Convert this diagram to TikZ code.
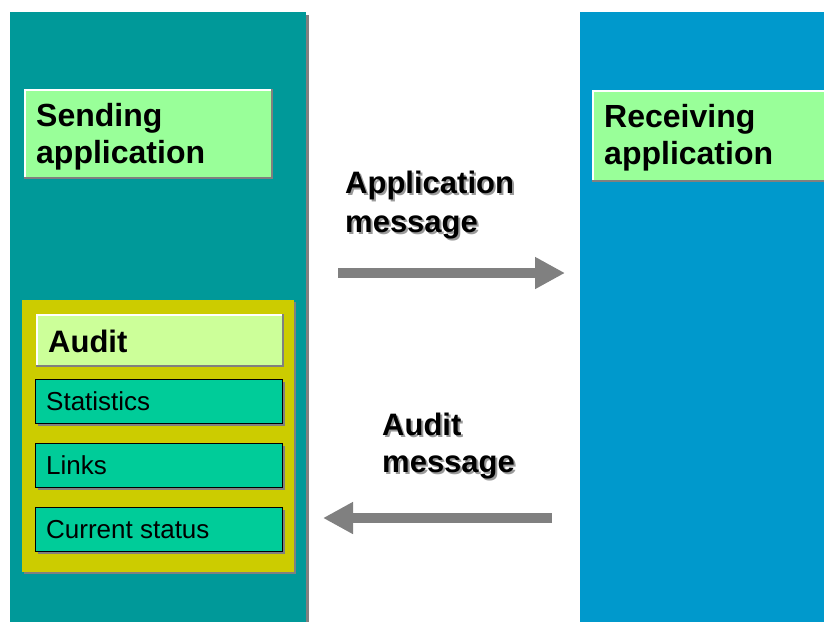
\documentclass[tikz,border=0pt]{standalone}
\usepackage{fontspec}
\setmainfont{Liberation Sans}
\usetikzlibrary{arrows.meta}
\definecolor{leftpanel}{HTML}{009999}
\definecolor{rightpanel}{HTML}{0099CC}
\definecolor{appgreen}{HTML}{99FF99}
\definecolor{audityellow}{HTML}{CCCC00}
\definecolor{auditlight}{HTML}{CCFF99}
\definecolor{itemgreen}{HTML}{00CC99}
\definecolor{shadowgray}{HTML}{808080}
\newcommand{\shadowed}[1]{\makebox[0pt][l]{\hspace{2pt}\raisebox{-2pt}{\textcolor{shadowgray!80}{#1}}}#1}
\tikzset{
  box/.style={draw=none, inner sep=0pt, outer sep=0pt, anchor=north west},
  bigtxt/.style={inner sep=0pt, anchor=base west, font=\fontsize{32}{37}\selectfont\bfseries},
  midtxt/.style={inner sep=0pt, anchor=base west, font=\fontsize{31}{37}\selectfont\bfseries},
  smalltxt/.style={inner sep=0pt, anchor=base west, font=\fontsize{26}{30}\selectfont},
  msgarrow/.style={draw=shadowgray, line width=10pt, -{Triangle[length=30pt,width=30pt]}},
}
\begin{document}
\begin{tikzpicture}[x=1pt,y=-1pt]
\useasboundingbox (0,0) rectangle (824,622);
% panels
\fill[shadowgray] (13,15) rectangle (309,622);
\fill[leftpanel] (10,12) rectangle (306,622);
\fill[rightpanel] (580,12) rectangle (824,622);
% sending box
\fill[shadowgray] (24,89) rectangle (272.5,178.5);
\fill[white] (24,89) rectangle (270.5,176.5);
\node[box, fill=appgreen, minimum width=244.5pt, minimum height=85.5pt] (send) at (26,91) {};
\node[bigtxt] (sendA) at (36,126) {Sending};
\node[bigtxt] (sendB) at (36,163) {application};
% receiving box
\fill[shadowgray] (592,90) rectangle (826,181.5);
\fill[white] (592,90) rectangle (826,179.5);
\node[box, fill=appgreen, minimum width=240pt, minimum height=87.5pt] (recv) at (594,92) {};
\node[bigtxt] (recvA) at (604,127) {Receiving};
\node[bigtxt] (recvB) at (604,164) {application};
% audit container
\fill[shadowgray] (24,302) rectangle (296,574);
\node[box, fill=audityellow, minimum width=272pt, minimum height=272pt] (audit) at (22,300) {};
\fill[shadowgray] (36,314) rectangle (283.5,366.5);
\fill[white] (36,314) rectangle (281.5,364.5);
\node[box, fill=auditlight, minimum width=243.5pt, minimum height=48.5pt] (audithead) at (38,316) {};
\node[midtxt] (audittxt) at (48,352) {Audit};
% items
\foreach \n/\y/\t in {stat/379/Statistics, links/443/Links, status/507/Current status}{
  \fill[shadowgray] (38,\y+3) rectangle (285,\y+47);
  \node[box, draw=black, line width=1pt, fill=itemgreen, minimum width=247pt, minimum height=44pt] (\n) at (35,\y) {};
  \node[smalltxt] (\n txt) at (46,\y+31) {\t};
}
% message labels with shadow
\node[midtxt] (amA) at (345,193) {\shadowed{Application}};
\node[midtxt] (amB) at (345,232) {\shadowed{message}};
\node[midtxt] (aumA) at (382,435) {\shadowed{Audit}};
\node[midtxt] (aumB) at (382,472) {\shadowed{message}};
% arrows
\coordinate (a1s) at (338,273);
\coordinate (a1e) at (565,273);
\coordinate (a2s) at (552,518);
\coordinate (a2e) at (323,518);
\draw[msgarrow] (a1s) -- (a1e);
\draw[msgarrow] (a2s) -- (a2e);
\end{tikzpicture}
\end{document}
